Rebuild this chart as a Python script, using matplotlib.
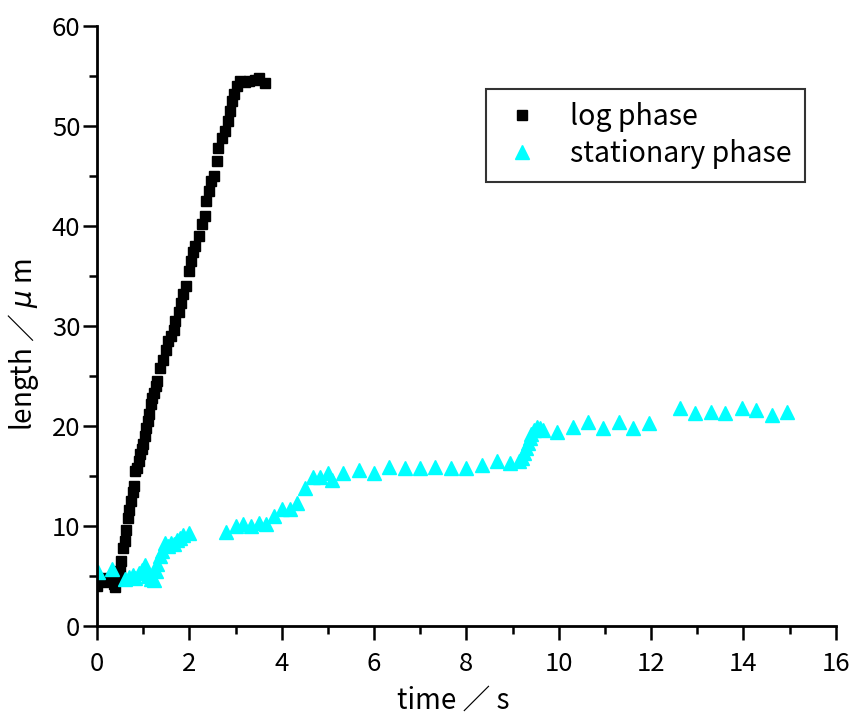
import matplotlib
matplotlib.use('Agg')
import matplotlib.pyplot as plt
from matplotlib.ticker import MultipleLocator

plt.rcParams['font.family'] = ['Noto Sans CJK JP', 'DejaVu Sans']
plt.rcParams['mathtext.fontset'] = 'dejavusans'

# log phase (black squares)
log_t = [0.00, 0.03, 0.07, 0.10, 0.13, 0.17, 0.20, 0.23, 0.27, 0.30,
         0.33, 0.37, 0.40, 0.43, 0.47, 0.50, 0.53, 0.57, 0.60, 0.63,
         0.67, 0.70, 0.73, 0.77, 0.80, 0.83, 0.87, 0.90, 0.93, 0.97,
         1.00, 1.03, 1.07, 1.10, 1.13, 1.17, 1.20, 1.23, 1.27, 1.30,
         1.37, 1.43, 1.50, 1.53, 1.60, 1.67, 1.70, 1.77, 1.83, 1.87,
         1.93, 2.00, 2.03, 2.07, 2.13, 2.20, 2.27, 2.33, 2.37, 2.43,
         2.47, 2.53, 2.60, 2.63, 2.70, 2.77, 2.83, 2.87, 2.93, 2.97,
         3.03, 3.10, 3.20, 3.30, 3.43, 3.50, 3.63]
log_len = [4.0, 4.6, 4.5, 4.7, 4.4, 4.6, 4.8, 4.5, 4.6, 4.7,
           4.5, 4.2, 3.9, 4.8, 5.0, 5.5, 6.5, 7.8, 8.5, 9.6,
           10.8, 11.6, 12.5, 13.4, 14.0, 15.5, 15.8, 16.5, 17.2, 17.7,
           18.2, 19.0, 19.8, 20.5, 21.2, 22.2, 22.8, 23.3, 24.0, 24.5,
           25.8, 26.6, 27.6, 28.5, 29.0, 29.6, 30.5, 31.4, 32.3, 33.2,
           34.0, 35.5, 36.5, 37.4, 38.0, 39.0, 40.2, 41.0, 42.5, 43.5,
           44.5, 45.0, 46.5, 47.8, 48.8, 49.5, 50.5, 51.5, 52.5, 53.2,
           54.0, 54.5, 54.4, 54.5, 54.6, 54.8, 54.3]

# stationary phase (cyan triangles)
stat_t = [0.03, 0.33, 0.60, 0.70, 0.77, 0.83, 0.90, 0.97, 1.03, 1.10,
          1.17, 1.23, 1.27, 1.30, 1.37, 1.40, 1.47, 1.53, 1.60, 1.67,
          1.73, 1.80, 1.87, 2.00,
          2.80, 3.00, 3.17, 3.33, 3.50, 3.67, 3.83, 4.00, 4.17, 4.33,
          4.50, 4.67, 4.83, 5.00, 5.10, 5.33, 5.67, 6.00, 6.33, 6.67,
          7.00, 7.33, 7.67, 8.00, 8.33, 8.67, 8.95, 9.13, 9.20, 9.25,
          9.30, 9.33, 9.37, 9.40, 9.47, 9.53, 9.60, 9.67,
          9.97, 10.30, 10.63, 10.95, 11.30, 11.62, 11.95,
          12.62, 12.96, 13.29, 13.60, 13.96, 14.28, 14.61, 14.94]
stat_len = [5.4, 5.7, 4.7, 4.9, 5.1, 4.8, 5.3, 5.6, 6.1, 5.0,
            4.7, 4.6, 5.5, 6.2, 7.0, 7.5, 8.3, 8.0, 8.3, 8.2,
            8.6, 8.8, 9.1, 9.3,
            9.4, 10.0, 10.2, 10.0, 10.3, 10.2, 11.0, 11.7, 11.7, 12.3,
            13.8, 14.9, 14.9, 15.3, 14.6, 15.3, 15.6, 15.3, 15.9, 15.8,
            15.8, 15.9, 15.8, 15.8, 16.1, 16.5, 16.3, 16.5, 16.8, 17.3,
            17.8, 18.3, 18.8, 19.2, 19.6, 19.9, 19.8, 19.6,
            19.4, 19.9, 20.4, 19.8, 20.4, 19.8, 20.3,
            21.8, 21.3, 21.4, 21.3, 21.8, 21.6, 21.1, 21.4]

fig = plt.figure(figsize=(8.51, 7.21), dpi=100)
ax = fig.add_axes([0.114, 0.132, 0.868, 0.832])

ax.plot(log_t, log_len, linestyle='none', marker='s', markersize=7.2,
        color='black', label='log phase')
ax.plot(stat_t, stat_len, linestyle='none', marker='^', markersize=10,
        color='#00ffff', label='stationary phase')

ax.set_xlim(0, 16)
ax.set_ylim(0, 60)
ax.xaxis.set_major_locator(MultipleLocator(2))
ax.xaxis.set_minor_locator(MultipleLocator(1))
ax.yaxis.set_major_locator(MultipleLocator(10))
ax.yaxis.set_minor_locator(MultipleLocator(5))

for side in ['top', 'right']:
    ax.spines[side].set_visible(False)
for side in ['left', 'bottom']:
    ax.spines[side].set_linewidth(2)

ax.tick_params(which='major', direction='out', length=10, width=1.8,
               labelsize=18.5)
ax.tick_params(which='minor', direction='out', length=6, width=1.8)
ax.tick_params(axis='x', which='major', pad=8)
ax.tick_params(axis='y', which='major', pad=2)

ax.set_xlabel('time ／ s', fontsize=20, labelpad=6, x=0.482)
ax.set_ylabel('length ／ $\\mu$ m', fontsize=20, labelpad=8, y=0.468)

leg = ax.legend(loc='upper left', bbox_to_anchor=(0.527, 0.895),
                borderaxespad=0, fontsize=20.5, fancybox=False,
                frameon=True, borderpad=0.45, handletextpad=0.9,
                labelspacing=0.25, handlelength=1.6)
leg.get_frame().set_edgecolor('black')
leg.get_frame().set_linewidth(1.5)

plt.savefig('out.png', dpi=100)
